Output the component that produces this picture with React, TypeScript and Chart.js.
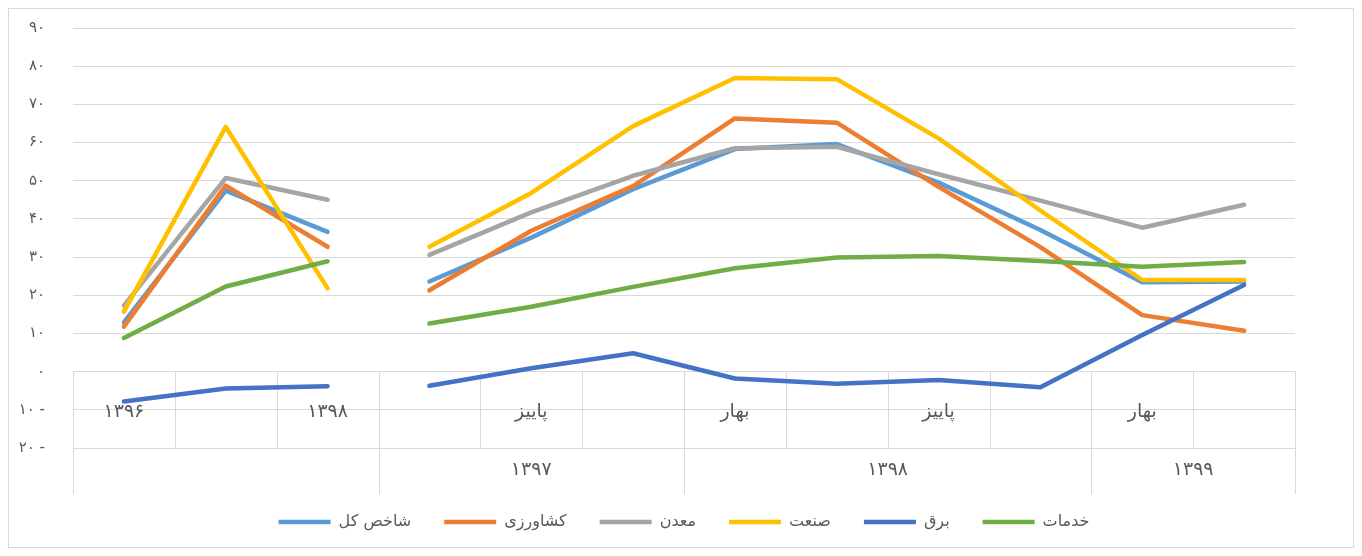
import React, { useEffect, useRef } from 'react';
import { Chart, registerables } from 'chart.js';

Chart.register(...registerables);

// ---- data ----
const categoryLabels = ['۱۳۹۶', '', '۱۳۹۸', '', 'پاییز', '', 'بهار', '', 'پاییز', '', 'بهار', ''];
const groupLabels = ['', '۱۳۹۷', '۱۳۹۸', '۱۳۹۹'];
const groupStarts = [0, 3, 6, 10];
const breakAfterIndex = 2;

const seriesNames = ['شاخص کل', 'کشاورزی', 'معدن', 'صنعت', 'برق', 'خدمات'];
const seriesColors = ['#5B9BD5', '#ED7D31', '#A5A5A5', '#FFC000', '#4472C4', '#70AD47'];

const shakhesKol = [12.9, 47.4, 36.6, 23.6, 35.1, 47.8, 58.3, 59.6, 49.5, 37.1, 23.4, 23.6];
const keshavarzi = [11.8, 48.7, 32.7, 21.3, 36.9, 48.6, 66.3, 65.2, 48.4, 32.6, 14.8, 10.7];
const madan = [17.3, 50.7, 45.0, 30.6, 41.7, 51.3, 58.5, 58.9, 51.7, 44.8, 37.7, 43.7];
const sanat = [15.7, 64.1, 21.8, 32.7, 46.8, 64.3, 76.9, 76.6, 61.1, 42.2, 24.0, 24.0];
const barq = [-7.8, -4.4, -3.8, -3.7, 0.9, 4.8, -1.8, -3.2, -2.2, -4.1, 9.6, 22.7];
const khadamat = [8.8, 22.3, 28.9, 12.6, 17.0, 22.2, 27.1, 29.9, 30.3, 29.0, 27.5, 28.7];

const seriesValues = [shakhesKol, keshavarzi, madan, sanat, barq, khadamat];

const yMin = -20;
const yMax = 90;
const yStep = 10;

const FONT = "'DejaVu Sans', 'Noto Sans', sans-serif";
const TEXT_COLOR = '#595959';
const LINE_COLOR = '#D9D9D9';

const faDigits = '۰۱۲۳۴۵۶۷۸۹';
const toFa = (n: number) => String(n).replace(/\d/g, (d) => faDigits[Number(d)]);

const ROW2_HEIGHT = 46;

const categoryTablePlugin = {
  id: 'categoryTable',
  beforeDatasetsDraw(chart: any) {
    const xs = chart.scales.x;
    const ys = chart.scales.y;
    const ctx = chart.ctx as CanvasRenderingContext2D;
    const n = categoryLabels.length;
    const y0 = ys.getPixelForValue(0);
    const yb = ys.getPixelForValue(yMin);
    const yEnd = yb + ROW2_HEIGHT;
    const boundary = (b: number) => {
      if (b <= 0) return xs.left;
      if (b >= n) return xs.right;
      return (xs.getPixelForValue(b - 1) + xs.getPixelForValue(b)) / 2;
    };
    ctx.save();
    ctx.strokeStyle = LINE_COLOR;
    ctx.lineWidth = 1;
    for (let b = 0; b <= n; b++) {
      const isGroup = groupStarts.includes(b) || b === n;
      const px = Math.round(boundary(b)) + 0.5;
      ctx.beginPath();
      ctx.moveTo(px, y0);
      ctx.lineTo(px, isGroup ? yEnd : yb);
      ctx.stroke();
    }
    ctx.fillStyle = TEXT_COLOR;
    ctx.font = `19px ${FONT}`;
    ctx.textAlign = 'center';
    ctx.textBaseline = 'middle';
    categoryLabels.forEach((lab, i) => {
      if (!lab) return;
      ctx.fillText(lab, xs.getPixelForValue(i), (y0 + yb) / 2 + 2);
    });
    groupLabels.forEach((lab, g) => {
      if (!lab) return;
      const s = groupStarts[g];
      const e = g + 1 < groupStarts.length ? groupStarts[g + 1] : n;
      ctx.fillText(lab, (boundary(s) + boundary(e)) / 2, yb + ROW2_HEIGHT / 2 - 1);
    });
    ctx.restore();
  },
};

export default function App() {
  const canvasRef = useRef<HTMLCanvasElement | null>(null);

  useEffect(() => {
    if (!canvasRef.current) return;
    const datasets = seriesNames.map((name, i) => ({
      label: name,
      data: seriesValues[i],
      borderColor: seriesColors[i],
      backgroundColor: seriesColors[i],
      borderWidth: 4.5,
      borderCapStyle: 'round' as const,
      borderJoinStyle: 'round' as const,
      pointRadius: 0,
      pointHoverRadius: 0,
      tension: 0,
      fill: false,
      order: -i,
      segment: {
        borderColor: (c: any) => (c.p0DataIndex === breakAfterIndex ? 'rgba(0,0,0,0)' : undefined),
      },
    }));

    const chart = new Chart(canvasRef.current, {
      type: 'line',
      data: { labels: categoryLabels, datasets },
      plugins: [categoryTablePlugin],
      options: {
        animation: false,
        responsive: true,
        maintainAspectRatio: false,
        layout: { padding: { left: 0, right: 58, top: 19, bottom: 7 } },
        plugins: {
          tooltip: { enabled: false },
          legend: {
            position: 'bottom',
            fullSize: false,
            labels: {
              usePointStyle: true,
              pointStyle: 'line',
              pointStyleWidth: 52,
              padding: 33,
              color: TEXT_COLOR,
              font: { family: FONT, size: 16 },
              sort: (a: any, b: any) => a.datasetIndex - b.datasetIndex,
            },
          },
        },
        scales: {
          x: {
            type: 'category',
            offset: true,
            grid: { display: false },
            border: { display: false },
            ticks: { display: false },
            afterFit: (scale: any) => {
              scale.height = 33;
            },
          },
          y: {
            min: yMin,
            max: yMax,
            grid: { color: LINE_COLOR, lineWidth: 1, drawTicks: false },
            border: { display: false },
            ticks: {
              stepSize: yStep,
              padding: 28,
              color: TEXT_COLOR,
              font: { family: FONT, size: 15 },
              callback: (v: any) => (Number(v) < 0 ? toFa(-Number(v)) + ' -' : toFa(Number(v))),
            },
            afterFit: (scale: any) => {
              scale.width = 64;
              scale.paddingTop = 0;
              scale.paddingBottom = 0;
            },
          },
        },
      },
    });
    return () => chart.destroy();
  }, []);

  return (
    <div
      style={{
        width: 1346,
        height: 540,
        border: `1px solid ${LINE_COLOR}`,
        boxSizing: 'border-box',
        position: 'relative',
        background: '#fff',
      }}
    >
      <canvas ref={canvasRef} />
    </div>
  );
}
